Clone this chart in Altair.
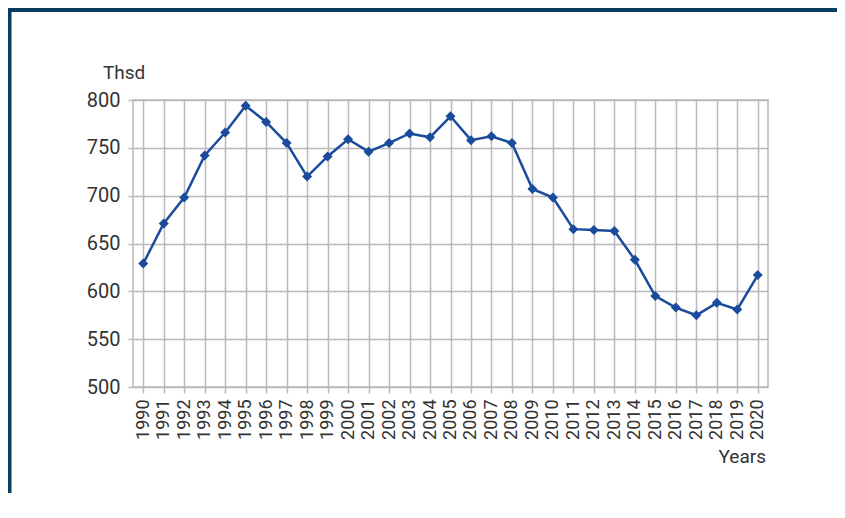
import altair as alt
import pandas as pd

years = [str(y) for y in range(1990, 2021)]
values = [629, 671, 698, 742, 766, 794, 777, 755, 720, 741, 759, 746, 755, 765,
          761, 783, 758, 762, 755, 707, 698, 665, 664, 663, 633, 595, 583, 575,
          588, 581, 617]
y_ticks = [500, 550, 600, 650, 700, 750, 800]
y_title = "Thsd"
x_title = "Years"

df = pd.DataFrame({"year": years, "value": values})

FONT = "Roboto"
LINE = "#1a4b9c"
GRID = "#b9b9bd"
FRAME = "#0b3d5f"

W, H = 635, 287

base = alt.Chart(df).encode(
    x=alt.X("year:O", sort=years, scale=alt.Scale(paddingInner=0, paddingOuter=0),
            axis=alt.Axis(title=None, bandPosition=0, labelAngle=-90, labelFontSize=18,
                          labelFont=FONT, labelColor="#333333", tickSize=6,
                          tickColor=GRID, tickWidth=1.5, domain=False,
                          grid=True, gridColor=GRID, gridWidth=1.5, labelPadding=6,
                          labelBaseline="middle", labelAlign="right")),
    y=alt.Y("value:Q", scale=alt.Scale(domain=[500, 800], nice=False, zero=False),
            axis=alt.Axis(title=None, values=y_ticks, labelFontSize=20, labelFont=FONT,
                          labelColor="#333333", tickSize=5, tickColor=GRID, tickWidth=1.5,
                          domain=False, grid=True, gridColor=GRID, gridWidth=1.5,
                          labelPadding=8)),
)

line = base.mark_line(color=LINE, strokeWidth=2.5)
pts = base.mark_point(shape="diamond", filled=True, size=100, color=LINE, opacity=1)

t1 = alt.Chart(pd.DataFrame({"t": [y_title]})).mark_text(
    font=FONT, fontSize=19, color="#333333", align="left", baseline="alphabetic"
).encode(text="t:N", x=alt.value(-30), y=alt.value(-21))

t2 = alt.Chart(pd.DataFrame({"t": [x_title]})).mark_text(
    font=FONT, fontSize=19, color="#333333", align="right", baseline="alphabetic"
).encode(text="t:N", x=alt.value(633), y=alt.value(363))

frame = pd.DataFrame({"k": [0]})
top_rule = alt.Chart(frame).mark_rule(color=FRAME, strokeWidth=4).encode(
    x=alt.value(-128), x2=alt.value(720), y=alt.value(-90))
left_rule = alt.Chart(frame).mark_rule(color=FRAME, strokeWidth=4).encode(
    x=alt.value(-123.5), y=alt.value(-92), y2=alt.value(393))

chart = alt.layer(line, pts, t1, t2, top_rule, left_rule).properties(
    width=W, height=H,
    autosize=alt.AutoSizeParams(type="none"),
    padding={"left": 125, "top": 92, "right": 69, "bottom": 120},
).configure_view(stroke=GRID, strokeWidth=1.5)

chart.save("out.html", embed_options={"renderer": "svg", "actions": False})
